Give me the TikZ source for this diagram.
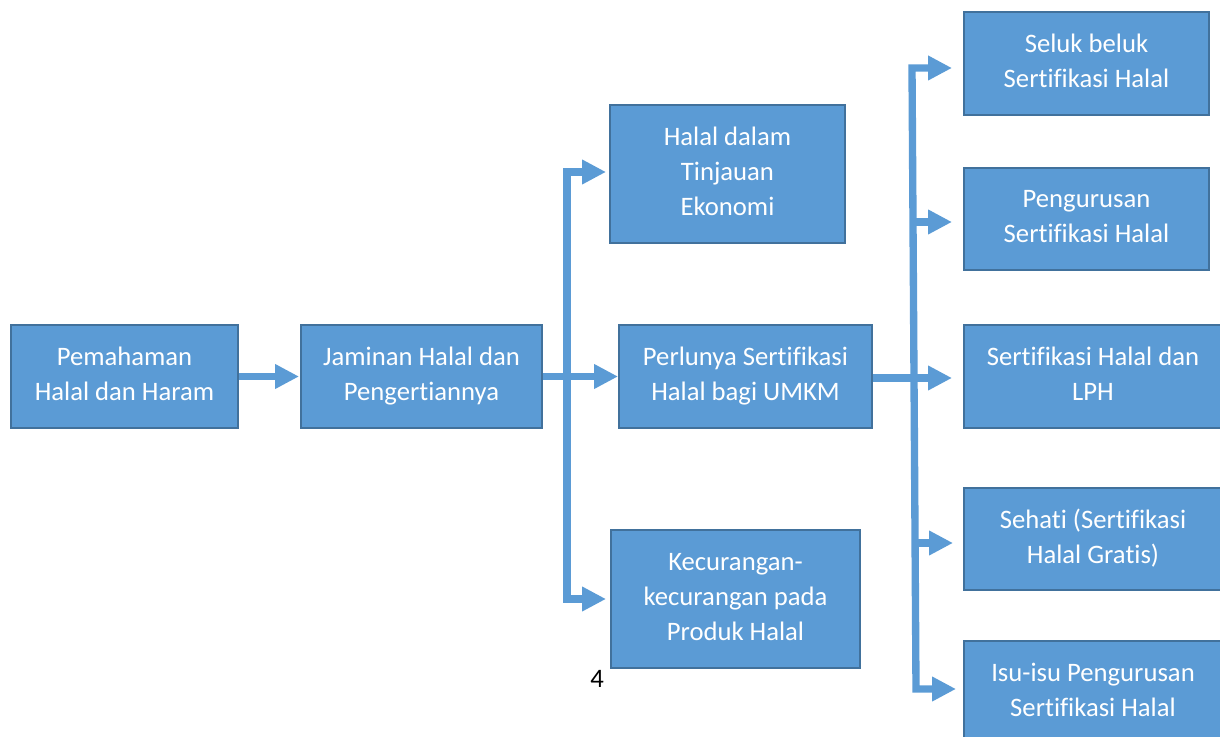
\documentclass[tikz,border=0pt]{standalone}
\usepackage{fontspec}
\setmainfont{Carlito}[Ligatures={NoCommon}]
\usetikzlibrary{arrows.meta}
\definecolor{boxfill}{HTML}{5B9BD5}
\definecolor{boxline}{HTML}{41719C}
\begin{document}
\begin{tikzpicture}[x=0.75pt,y=-0.75pt,
  box/.style={draw=boxline, line width=1.5pt, fill=boxfill, text=white, align=center,
    inner sep=0pt, font=\fontsize{20}{26.25}\selectfont,
    execute at end node={\vphantom{gpy}}},
  arr/.style={draw=boxfill, line width=5.5pt, line join=miter,
    -{Triangle[width=17.5pt,length=18pt]}},
  pagenum/.style={font=\fontsize{20}{24}\selectfont, text=black, inner sep=0pt}]
\useasboundingbox (0,0) rectangle (1220,737);

% boxes
\node[box, minimum width=170.25pt, minimum height=77.25pt] (A) at (124.5,376.5) {Pemahaman\\Halal dan Haram};
\node[box, minimum width=180.75pt, minimum height=77.25pt] (B) at (421.5,376.5) {Jaminan Halal dan\\Pengertiannya};
\node[box, minimum width=176.25pt, minimum height=103.5pt] (C) at (727.5,174) {Halal dalam\\Tinjauan\\Ekonomi};
\node[box, minimum width=189.75pt, minimum height=77.25pt] (D) at (745.5,376.5) {Perlunya Sertifikasi\\Halal bagi UMKM};
\node[box, minimum width=186.75pt, minimum height=103.5pt] (E) at (735.5,599) {Kecurangan-\\kecurangan pada\\Produk Halal};
\node[box, minimum width=183.75pt, minimum height=77.25pt] (R1) at (1086.5,63.5) {Seluk beluk\\Sertifikasi Halal};
\node[box, minimum width=183.75pt, minimum height=76.5pt] (R2) at (1086.5,219) {Pengurusan\\Sertifikasi Halal};
\node[box, minimum width=193.5pt, minimum height=77.25pt] (R3) at (1093,376.5) {Sertifikasi Halal dan\\LPH};
\node[box, minimum width=193.5pt, minimum height=76.5pt] (R4) at (1093,539) {Sehati (Sertifikasi\\Halal Gratis)};
\node[box, minimum width=193.5pt, minimum height=77.25pt] (R5) at (1093,692.5) {Isu-isu Pengurusan\\Sertifikasi Halal};

\node[pagenum] (pg) at (597,679) {4};

% first arrow
\draw[arr, shorten >=0.75pt] (A.east) -- (B.west);

% middle connector
\coordinate (m1) at (567,172);
\coordinate (m2) at (567,599);
\draw[arr, shorten >=2.25pt] (m2) -- (m1) -- (m1 -| C.west);
\draw[arr, shorten >=3pt] (m1) -- (m2) -- (m2 -| E.west);
\draw[arr] (B.east) -- (D.west);

% right connector
\coordinate (r1) at (912,68);
\coordinate (r2) at (913,222);
\coordinate (r3) at (914,378);
\coordinate (r4) at (915,543);
\coordinate (r5) at (916,689);
\draw[arr, shorten >=8.25pt] (r3) -- (r1) -- (r1 -| R1.west);
\draw[arr, shorten >=5.25pt] (r3) -- (r5) -- (r5 -| R5.west);
\draw[arr, shorten >=8.25pt] (r2) -- (r2 -| R2.west);
\draw[arr, shorten >=7.5pt] (r4) -- (r4 -| R4.west);
\draw[arr, shorten >=8.25pt] (D.east |- r3) -- (r3 -| R3.west);
\end{tikzpicture}
\end{document}
